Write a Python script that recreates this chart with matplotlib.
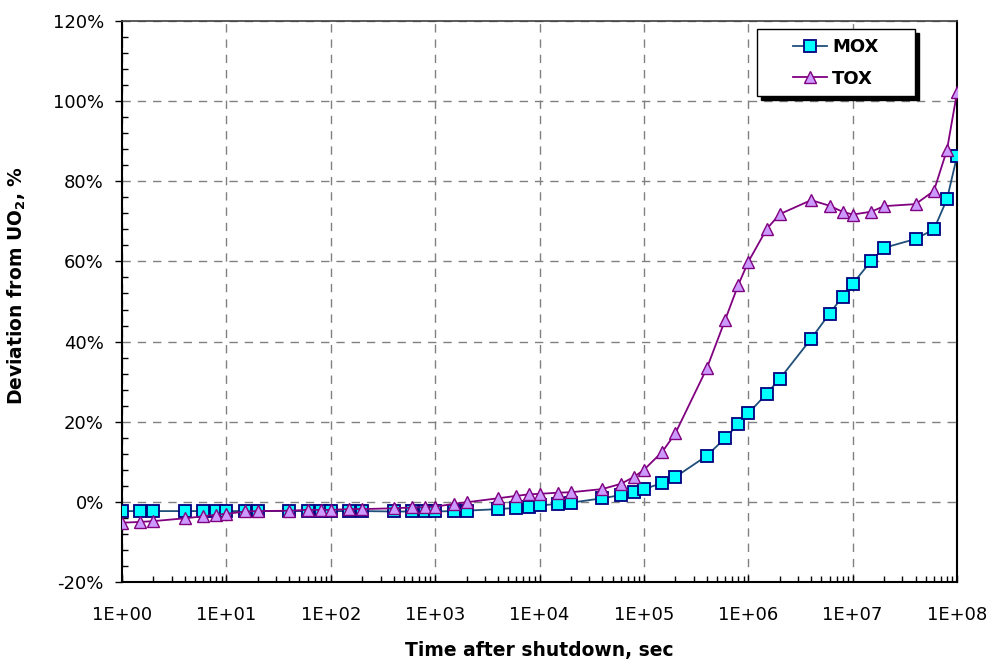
import matplotlib
matplotlib.use("Agg")
import matplotlib.pyplot as plt
from matplotlib.patches import Rectangle
from matplotlib.ticker import FixedLocator, LogLocator, NullFormatter, MultipleLocator

# time after shutdown, sec
time = [1, 1.5, 2, 4, 6, 8,
        1e1, 1.5e1, 2e1, 4e1, 6e1, 8e1,
        1e2, 1.5e2, 2e2, 4e2, 6e2, 8e2,
        1e3, 1.5e3, 2e3, 4e3, 6e3, 8e3,
        1e4, 1.5e4, 2e4, 4e4, 6e4, 8e4,
        1e5, 1.5e5, 2e5, 4e5, 6e5, 8e5,
        1e6, 1.5e6, 2e6, 4e6, 6e6, 8e6,
        1e7, 1.5e7, 2e7, 4e7, 6e7, 8e7,
        1e8]

# deviation from UO2, %
mox = [-2.3, -2.3, -2.3, -2.3, -2.3, -2.3,
       -2.3, -2.3, -2.3, -2.3, -2.3, -2.3,
       -2.3, -2.3, -2.3, -2.4, -2.4, -2.4,
       -2.4, -2.3, -2.2, -1.8, -1.5, -1.2,
       -0.9, -0.5, -0.2, 0.9, 1.7, 2.4,
       3.2, 4.7, 6.2, 11.5, 15.9, 19.4,
       22.1, 27.0, 30.7, 40.7, 47.0, 51.2,
       54.4, 60.1, 63.4, 65.6, 68.0, 75.5,
       86.3]

tox = [-5.2, -5.0, -4.8, -4.1, -3.6, -3.2,
       -3.0, -2.4, -2.3, -2.2, -2.0, -2.0,
       -2.0, -1.8, -1.8, -1.6, -1.4, -1.3,
       -1.2, -0.5, -0.1, 0.9, 1.5, 1.9,
       2.0, 2.3, 2.4, 3.2, 4.5, 6.2,
       8.0, 12.5, 17.1, 33.3, 45.4, 54.1,
       59.9, 68.1, 71.8, 75.3, 73.9, 72.4,
       71.7, 72.4, 73.8, 74.3, 77.6, 87.8,
       102.2]

x_ticks = [10.0 ** k for k in range(9)]
x_labels = ["1E+%02d" % k for k in range(9)]
y_ticks = list(range(-20, 121, 20))
y_labels = ["%d%%" % v for v in y_ticks]

plt.rcParams['font.family'] = ['DejaVu Sans']

fig = plt.figure(figsize=(9.89, 6.62), dpi=100)
ax = fig.add_axes([0.1234, 0.1208, 0.8443, 0.8475])

ax.plot(time, mox, color="#1F4E79", lw=1.3, marker="s", ms=8,
        mfc="#00FFFF", mec="#000080", mew=1.3, label="MOX", zorder=3)
ax.plot(time, tox, color="#800080", lw=1.3, marker="^", ms=9,
        mfc="#CC99FF", mec="#800080", mew=1.0, label="TOX", zorder=3)

ax.set_xscale("log")
ax.set_xlim(1, 1e8)
ax.set_ylim(-20, 120)
ax.xaxis.set_major_locator(FixedLocator(x_ticks))
ax.set_xticks(x_ticks)
ax.set_xticklabels(x_labels)
ax.xaxis.set_minor_locator(LogLocator(base=10, subs=range(2, 10), numticks=20))
ax.xaxis.set_minor_formatter(NullFormatter())
ax.set_yticks(y_ticks)
ax.set_yticklabels(y_labels)
ax.yaxis.set_minor_locator(MultipleLocator(4))

ax.tick_params(axis="x", which="major", labelsize=13, direction="in",
               length=5, width=1, pad=17)
ax.tick_params(axis="y", which="major", labelsize=13, direction="out",
               length=5, width=1, pad=8)
ax.tick_params(axis="both", which="minor", direction="in", length=4, width=1)

ax.grid(True, which="major", color="#808080", linestyle=(0, (6, 5)), lw=1)
for side in ["left", "bottom", "right"]:
    ax.spines[side].set_linewidth(1.5)
    ax.spines[side].set_color("black")
ax.spines["top"].set_color("#404040")
ax.spines["top"].set_linewidth(1.2)

ax.set_xlabel("Time after shutdown, sec", fontsize=13.5, fontweight="bold")
ax.set_ylabel("Deviation from UO$_\\mathbf{2}$, %", fontsize=13.5, fontweight="bold")
ax.xaxis.set_label_coords(0.5, -0.105)
ax.yaxis.set_label_coords(-0.113, 0.528)

# legend box with a solid shadow, in figure pixels
box_x0, box_y0, box_x1, box_y1 = 757, 29, 915, 96
for dx, fc in [(4, "black"), (0, "white")]:
    fig.patches.append(Rectangle(((box_x0 + dx) / 989, 1 - (box_y1 + dx) / 662),
                                 (box_x1 - box_x0) / 989, (box_y1 - box_y0) / 662,
                                 transform=fig.transFigure, facecolor=fc,
                                 edgecolor="black", lw=1, zorder=5))
leg = fig.legend(loc="center", bbox_to_anchor=(836 / 989, 1 - 63 / 662),
                 frameon=False, prop={"weight": "bold", "size": 13},
                 handlelength=1.85, handletextpad=0.3, labelspacing=0.75,
                 borderpad=0)
leg.set_zorder(6)

fig.savefig("out.png", dpi=100)
